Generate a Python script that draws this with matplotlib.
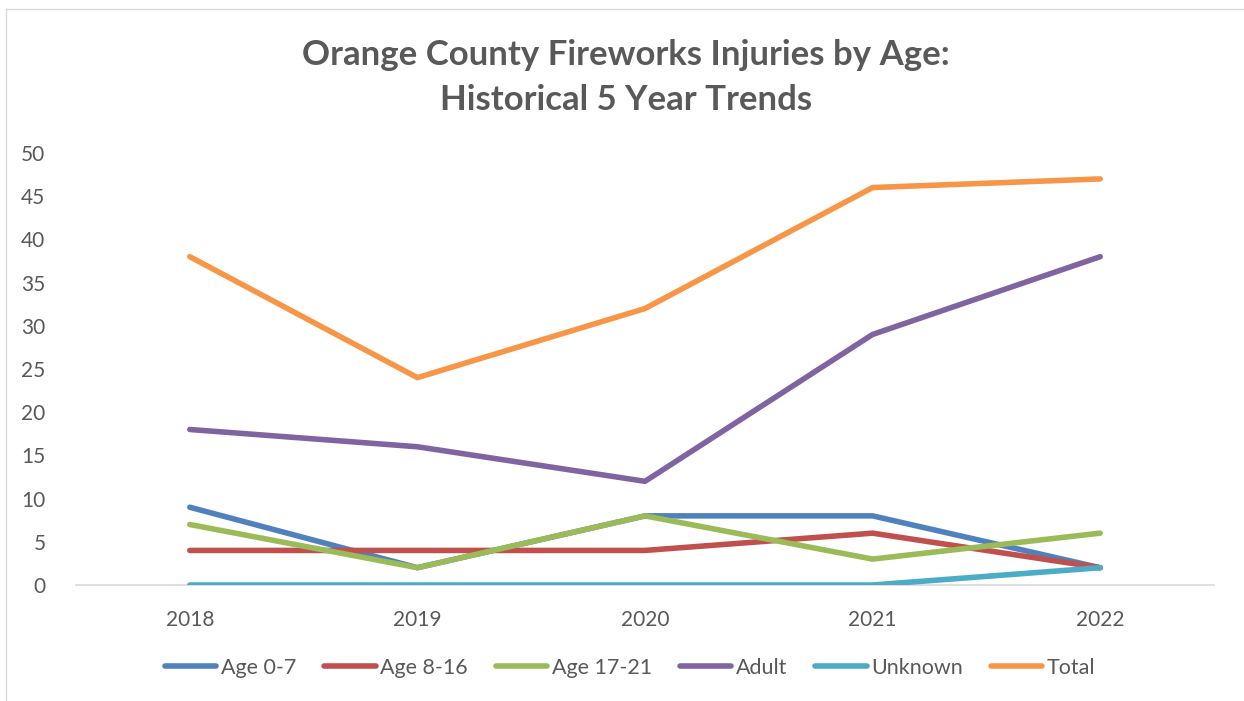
import matplotlib
matplotlib.use("Agg")
import matplotlib.pyplot as plt
from matplotlib.lines import Line2D

years = ["2018", "2019", "2020", "2021", "2022"]
age_0_7 = [9, 2, 8, 8, 2]
age_8_16 = [4, 4, 4, 6, 2]
age_17_21 = [7, 2, 8, 3, 6]
adult = [18, 16, 12, 29, 38]
unknown = [0, 0, 0, 0, 2]
total = [38, 24, 32, 46, 47]
series_names = ["Age 0-7", "Age 8-16", "Age 17-21", "Adult", "Unknown", "Total"]
colors = ["#4F81BD", "#C0504D", "#9BBB59", "#8064A2", "#4BACC6", "#F79646"]
yticks = [0, 5, 10, 15, 20, 25, 30, 35, 40, 45, 50]

plt.rcParams['font.family'] = ['Lato', 'DejaVu Sans']
W, H = 1244, 701
fig = plt.figure(figsize=(W/100, H/100), dpi=100)
ax = fig.add_axes([76/W, 1-585/H, (1214-76)/W, (585-153)/H])

x = list(range(len(years)))
for vals, name, c in zip([age_0_7, age_8_16, age_17_21, adult, unknown, total], series_names, colors):
    ax.plot(x, vals, color=c, lw=4, solid_capstyle='round', solid_joinstyle='round', label=name)

ax.set_xlim(-0.5, 4.5)
ax.set_ylim(0, 50)
ax.set_yticks(yticks)
ax.set_xticks(x)
ax.set_xticklabels(years)
for s in ['top', 'right', 'left']:
    ax.spines[s].set_visible(False)
ax.spines['bottom'].set_color('#D9D9D9')
ax.spines['bottom'].set_linewidth(1.2)
ax.spines['bottom'].set_zorder(0)
ax.tick_params(axis='both', length=0, labelsize=15, labelcolor='#595959')
ax.tick_params(axis='y', pad=22)
ax.tick_params(axis='x', pad=18)
for lbl in ax.get_yticklabels():
    lbl.set_horizontalalignment('right')

fig.text(626/W, 1-55/H, "Orange County Fireworks Injuries by Age:", ha='center', va='center',
         fontsize=25, fontweight='bold', color='#595959')
fig.text(626/W, 1-100/H, "Historical 5 Year Trends", ha='center', va='center',
         fontsize=25, fontweight='bold', color='#595959')

handles = [Line2D([], [], color=c, lw=4, solid_capstyle='round') for c in colors]
leg = fig.legend(handles, series_names, loc='center', bbox_to_anchor=(630/W, 1-668/H), ncol=6,
                 frameon=False, fontsize=15.5, handlelength=2.4, handletextpad=0.2, columnspacing=1.3)
for t in leg.get_texts():
    t.set_color('#595959')

# chart border
fig.add_artist(Line2D([6/W, 6/W], [0, 1-9/H], transform=fig.transFigure, color='#D9D9D9', lw=1))
fig.add_artist(Line2D([6/W, 1], [1-9/H, 1-9/H], transform=fig.transFigure, color='#D9D9D9', lw=1))

fig.savefig("out.png", dpi=100, facecolor='white')
